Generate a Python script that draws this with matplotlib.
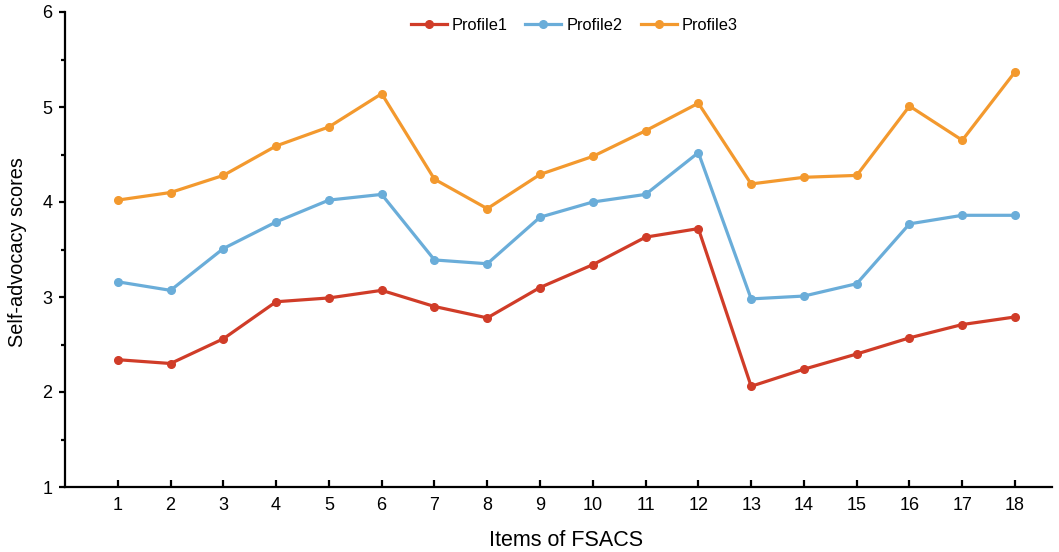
import matplotlib
matplotlib.use("Agg")
import matplotlib.pyplot as plt
from matplotlib.ticker import MultipleLocator

plt.rcParams['font.family'] = ['Liberation Sans', 'DejaVu Sans']

items = list(range(1, 19))
profile1 = [2.34, 2.30, 2.56, 2.95, 2.99, 3.07, 2.90, 2.78, 3.10, 3.34,
            3.63, 3.72, 2.06, 2.24, 2.40, 2.57, 2.71, 2.79]
profile2 = [3.16, 3.07, 3.51, 3.79, 4.02, 4.08, 3.39, 3.35, 3.84, 4.00,
            4.08, 4.52, 2.98, 3.01, 3.14, 3.77, 3.86, 3.86]
profile3 = [4.02, 4.10, 4.28, 4.59, 4.79, 5.14, 4.24, 3.93, 4.29, 4.48,
            4.75, 5.04, 4.19, 4.26, 4.28, 5.01, 4.65, 5.37]
series_names = ['Profile1', 'Profile2', 'Profile3']
colors = ['#d03c28', '#6aadd9', '#f3992e']

fig = plt.figure(figsize=(10.59, 5.52), dpi=100)
ax = fig.add_axes([65/1059, 1-487/552, (1052-65)/1059, (487-12)/552])

for vals, name, c in zip([profile1, profile2, profile3], series_names, colors):
    ax.plot(items, vals, color=c, lw=2.3, marker='o', ms=5.5, label=name)

ax.set_xlim(0, 18.7)
ax.set_ylim(1, 6)
ax.set_xticks(items)
ax.set_yticks(range(1, 7))
ax.yaxis.set_minor_locator(MultipleLocator(0.5))
for s in ['top', 'right']:
    ax.spines[s].set_visible(False)
for s in ['left', 'bottom']:
    ax.spines[s].set_linewidth(1.6)
ax.tick_params(axis='y', which='major', direction='out', length=4, width=1.6, labelsize=13, pad=5)
ax.tick_params(axis='y', which='minor', direction='out', length=3, width=1.6)
ax.tick_params(axis='x', which='major', direction='in', length=5, width=1.6, labelsize=13, pad=7)

fig.text(566/1059, 1-541/552, 'Items of FSACS', fontsize=15.5, ha='center', va='center')
fig.text(18/1059, 1-252/552, 'Self-advocacy scores', fontsize=14.3, ha='center', va='center',
         rotation=90)

fig.legend(loc='center', bbox_to_anchor=(574/1059, 1-25/552), ncol=3, frameon=False,
           fontsize=11.8, handlelength=2.2, columnspacing=1.1, handletextpad=0.3)

fig.savefig('out.png', dpi=100)
